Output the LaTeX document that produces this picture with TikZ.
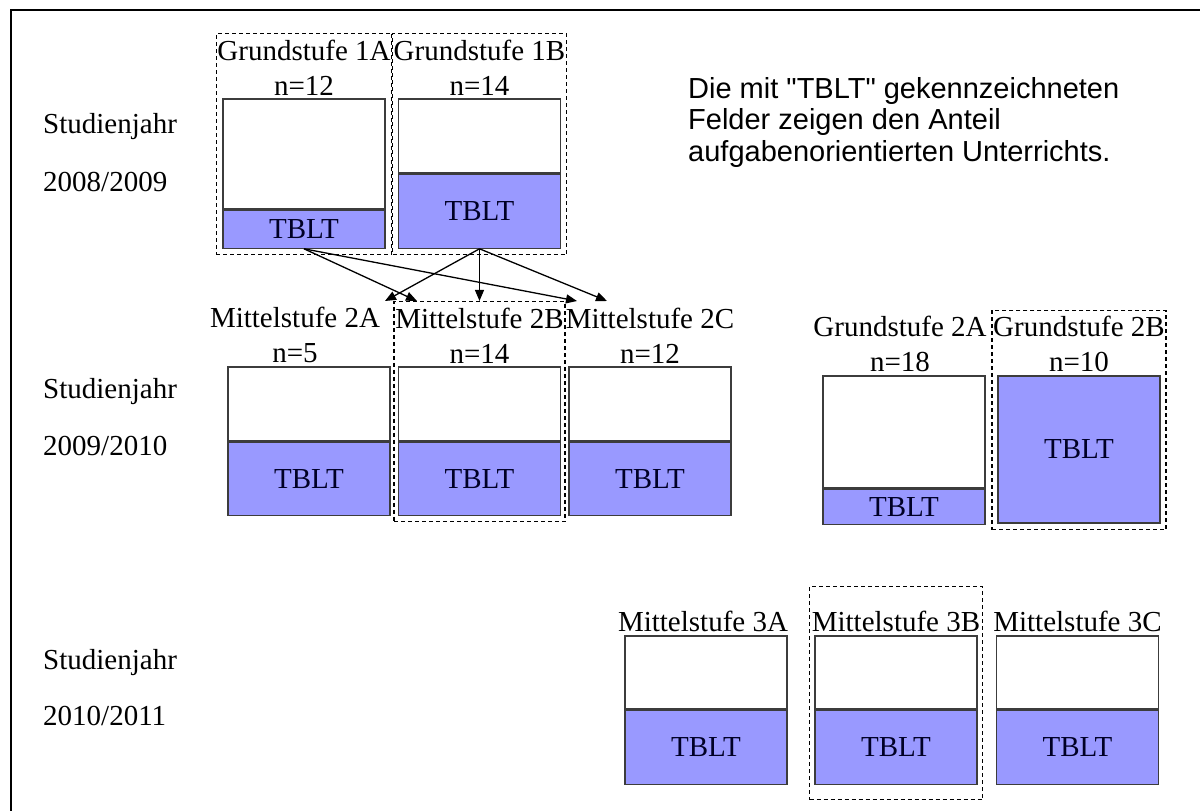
\documentclass[tikz,border=0pt]{standalone}
\usepackage{fontspec}
\setmainfont{Liberation Serif}
\newfontfamily\hinweisfont{Liberation Sans}
\usetikzlibrary{positioning,fit,arrows.meta}
\definecolor{tbltblau}{RGB}{153,153,255}
\definecolor{randgrau}{RGB}{60,60,60}
\tikzset{
  leer/.style={draw=randgrau, line width=1.2pt, fill=white, minimum width=162pt, inner sep=0pt},
  voll/.style={leer, fill=tbltblau, text=black!85!blue, font=\fontsize{29}{35}\selectfont},
  klasse/.style={align=center, inner sep=0pt, font=\fontsize{29}{35}\selectfont},
  gruppe/.style={draw, dash pattern=on 4pt off 3pt, line width=1.3pt, inner xsep=1pt, inner ysep=6pt},
  pfeil/.style={-{Triangle[length=11pt,width=9pt]}, line width=1.3pt},
  jahr/.style={anchor=west, inner sep=0pt, font=\fontsize{29}{35}\selectfont}
}
\begin{document}
\begin{tikzpicture}[x=1pt,y=-1pt]
\useasboundingbox (0,0) rectangle (1200,811);
\draw[line width=2.4pt] (11,811) -- (11,10) -- (1200,10);

% Studienjahr 2008/2009
\node[jahr] (j1) at (43,127) {Studienjahr};
\node[jahr] (j1b) at (43,182) {2008/2009};
\node[leer, minimum height=110pt] (w1a) at (304,154) {};
\node[voll, minimum height=38pt, below=0pt of w1a] (t1a) {TBLT};
\node[leer, minimum height=74pt] (w1b) at (479.5,136) {};
\node[voll, minimum height=74pt, below=0pt of w1b] (t1b) {TBLT};
\node[klasse, above=3pt of w1a] (l1a) {Grundstufe 1A\\n=12};
\node[klasse, above=3pt of w1b] (l1b) {Grundstufe 1B\\n=14};
\node[gruppe, fit=(l1a)(t1a)] (g1a) {};
\node[gruppe, fit=(l1b)(t1b)] (g1b) {};

\node[anchor=north west, align=left, inner sep=0pt,
      font=\hinweisfont\fontsize{29}{31.5}\selectfont] (hinweis) at (688,77)
  {Die mit "TBLT" gekennzeichneten\\Felder zeigen den Anteil\\aufgabenorientierten Unterrichts.};

% Studienjahr 2009/2010
\node[jahr] (j2) at (43,392) {Studienjahr};
\node[jahr] (j2b) at (43,446) {2009/2010};
\node[leer, minimum height=74pt] (w2a) at (309,404) {};
\node[voll, minimum height=73pt, below=0pt of w2a] (t2a) {TBLT};
\node[leer, minimum height=74pt] (w2b) at (479.5,404) {};
\node[voll, minimum height=73pt, below=0pt of w2b] (t2b) {TBLT};
\node[leer, minimum height=74pt] (w2c) at (650,404) {};
\node[voll, minimum height=73pt, below=0pt of w2c] (t2c) {TBLT};
\node[klasse, above=3pt of w2a, xshift=-14pt] (l2a) {Mittelstufe 2A\\n=5};
\node[klasse, above=3pt of w2b] (l2b) {Mittelstufe 2B\\n=14};
\node[klasse, above=3pt of w2c] (l2c) {Mittelstufe 2C\\n=12};
\node[gruppe, fit=(l2b)(t2b)] (g2b) {};

\node[leer, minimum height=112pt] (w2d) at (904,432) {};
\node[voll, minimum height=35pt, below=0pt of w2d] (t2d) {TBLT};
\node[voll, minimum height=147pt] (t2e) at (1079,449.5) {TBLT};
\node[klasse, above=3pt of w2d, xshift=-4pt] (l2d) {Grundstufe 2A\\n=18};
\node[klasse, above=3pt of t2e] (l2e) {Grundstufe 2B\\n=10};
\node[gruppe, fit=(l2e)(t2e)] (g2e) {};

% Studienjahr 2010/2011
\node[jahr] (j3) at (43,663) {Studienjahr};
\node[jahr] (j3b) at (43,716) {2010/2011};
\node[leer, minimum height=73pt] (w3a) at (706,672.5) {};
\node[voll, minimum height=74pt, below=0pt of w3a] (t3a) {TBLT};
\node[leer, minimum height=73pt] (w3b) at (896,672.5) {};
\node[voll, minimum height=74pt, below=0pt of w3b] (t3b) {TBLT};
\node[leer, minimum height=73pt] (w3c) at (1077.5,672.5) {};
\node[voll, minimum height=74pt, below=0pt of w3c] (t3c) {TBLT};
\node[klasse, above=3pt of w3a, xshift=-3pt] (l3a) {Mittelstufe 3A};
\node[klasse, above=3pt of w3b] (l3b) {Mittelstufe 3B};
\node[klasse, above=3pt of w3c] (l3c) {Mittelstufe 3C};
\node[gruppe, fit=(l3b)(t3b), inner xsep=2pt, inner ysep=20pt, yshift=5pt] (g3b) {};

% Uebergaenge
\coordinate (p2a) at (385,301);
\coordinate (p2b) at (417,301);
\coordinate (p2c) at (577,301);
\coordinate (p2d) at (607,301);
\draw[pfeil] (t1a.south) -- (p2b);
\draw[pfeil] (t1a.south) -- (p2c);
\draw[pfeil] (t1b.south) -- (p2a);
\draw[pfeil] (t1b.south) -- (g2b.north);
\draw[pfeil] (t1b.south) -- (p2d);
\end{tikzpicture}
\end{document}
